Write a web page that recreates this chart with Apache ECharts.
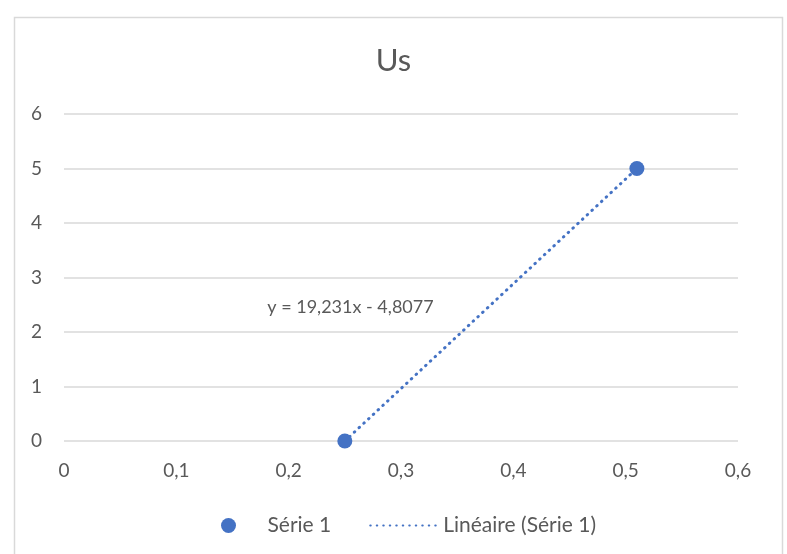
<!DOCTYPE html>
<html>
<head>
<meta charset="utf-8">
<script src="https://cdn.jsdelivr.net/npm/echarts@6/dist/echarts.min.js"></script>
<style>
html,body{margin:0;padding:0;background:#fff;}
#chart{width:787px;height:554px;}
</style>
</head>
<body>
<div id="chart"></div>
<script>
const titleText = "Us";
const seriesName = "Série 1";
const trendName = "Linéaire (Série 1)";
const points = [[0.25, 0], [0.51, 5]];
const trendPoints = [[0.25, 0.0], [0.51, 5.0]];
const trendLabel = "y = 19,231x - 4,8077";
const trendLabelPos = [0.255, 2.45];
const xTicks = [0, 0.1, 0.2, 0.3, 0.4, 0.5, 0.6];
const yTicks = [0, 1, 2, 3, 4, 5, 6];

const FONT = 'Lato, "Liberation Sans", sans-serif';
const TXT = '#595959';
const BLUE = '#4472C4';
const fmt = v => String(v).replace('.', ',');

const chart = echarts.init(document.getElementById('chart'));
chart.setOption({
  animation: false,
  backgroundColor: '#fff',
  title: {
    text: titleText, left: 'center', top: 40,
    textStyle: {fontFamily: FONT, fontSize: 31, fontWeight: 'normal', color: TXT}
  },
  graphic: [{
    type: 'rect', left: 12, top: 15,
    shape: {width: 768, height: 560},
    style: {fill: 'none', stroke: '#D9D9D9', lineWidth: 1.5}, silent: true
  }],
  grid: {left: 64, right: 49, top: 114, bottom: 113},
  xAxis: {
    type: 'value', min: xTicks[0], max: xTicks[xTicks.length - 1], interval: 0.1,
    axisLine: {show: false}, axisTick: {show: false}, splitLine: {show: false},
    axisLabel: {formatter: fmt, fontFamily: FONT, fontSize: 19, color: TXT, margin: 20}
  },
  yAxis: {
    type: 'value', min: yTicks[0], max: yTicks[yTicks.length - 1], interval: 1,
    axisLine: {show: false}, axisTick: {show: false},
    splitLine: {lineStyle: {color: '#D9D9D9', width: 1.5}},
    axisLabel: {formatter: fmt, fontFamily: FONT, fontSize: 19, color: TXT, margin: 22}
  },
  legend: {
    bottom: 13, left: 216, itemWidth: 68, itemHeight: 15, itemGap: 38,
    textStyle: {fontFamily: FONT, fontSize: 21, color: TXT},
    data: [
      {name: seriesName, icon: 'circle'},
      {name: trendName, itemStyle: {opacity: 0}}
    ]
  },
  series: [
    {
      name: trendName, type: 'line', data: trendPoints, symbol: 'none',
      lineStyle: {color: BLUE, width: 3, type: [0.5, 6], cap: 'round'},
      itemStyle: {color: BLUE}, z: 2,
      markPoint: {
        symbol: 'circle', symbolSize: 1,
        itemStyle: {color: 'rgba(0,0,0,0)'},
        data: [{coord: trendLabelPos, value: trendLabel}],
        label: {show: true, formatter: trendLabel, fontFamily: FONT, fontSize: 18, color: TXT, position: 'inside'}
      }
    },
    {
      name: seriesName, type: 'scatter', data: points, symbolSize: 15,
      itemStyle: {color: BLUE, opacity: 1}, z: 3
    }
  ]
});
</script>
</body>
</html>
